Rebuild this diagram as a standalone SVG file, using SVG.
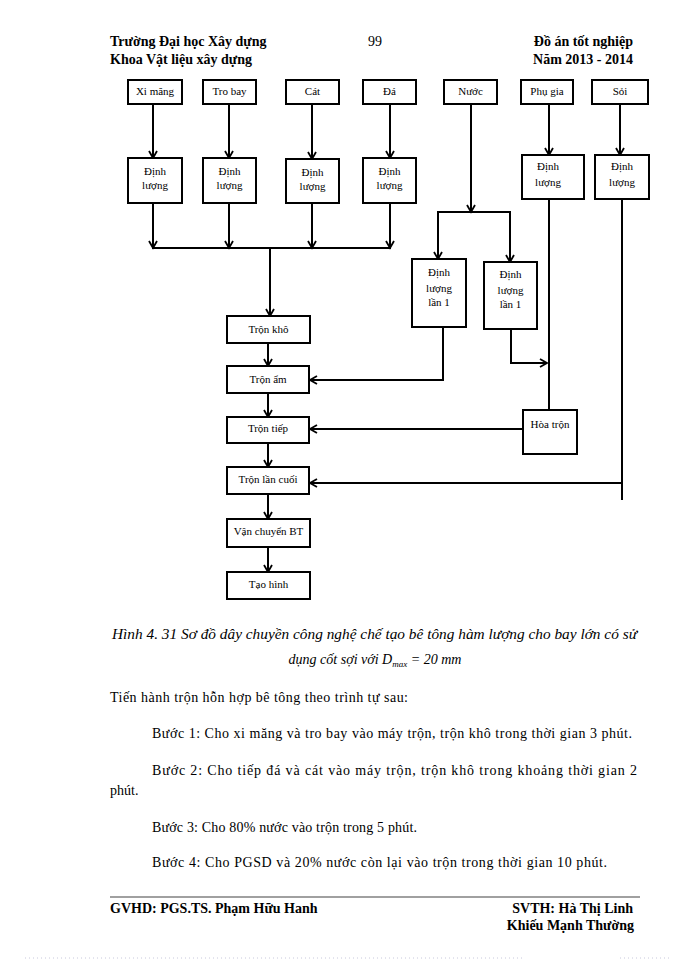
<svg xmlns="http://www.w3.org/2000/svg" width="700" height="960" viewBox="0 0 700 960">
<style>
text{font-family:"Liberation Serif","Times New Roman",serif;fill:#000}
.h{font-size:14px;font-weight:bold}
.b{font-size:14px}
.cap{font-size:14px;font-style:italic}
.n{font-size:11px;text-anchor:middle}
.box{fill:#fff;stroke:#000;stroke-width:2}
.c{fill:none;stroke:#000;stroke-width:2}
.a{marker-end:url(#arr)}
</style>
<defs>
<marker id="arr" markerUnits="userSpaceOnUse" markerWidth="10" markerHeight="10" viewBox="0 0 10 10" refX="8" refY="5" orient="auto">
<path d="M1,1 L8,5 L1,9" fill="none" stroke="#000" stroke-width="1.8"/>
</marker>
</defs>
<rect width="700" height="960" fill="#fff"/>

<g id="header">
<text class="h" x="110" y="46">Trường Đại học Xây dựng</text>
<text class="b" x="375" y="46" text-anchor="middle">99</text>
<text class="h" x="633" y="46" text-anchor="end">Đồ án tốt nghiệp</text>
<text class="h" x="110" y="64">Khoa Vật liệu xây dựng</text>
<text class="h" x="633" y="64" text-anchor="end">Năm 2013 - 2014</text>
</g>

<g id="connectors">
<line class="c a" x1="153" y1="104" x2="153" y2="158"/>
<line class="c a" x1="229" y1="104" x2="229" y2="158"/>
<line class="c a" x1="312" y1="104" x2="312" y2="159"/>
<line class="c a" x1="390" y1="104" x2="390" y2="158"/>
<line class="c a" x1="153" y1="203" x2="153" y2="248"/>
<line class="c a" x1="229" y1="203" x2="229" y2="248"/>
<line class="c a" x1="312" y1="203" x2="312" y2="248"/>
<line class="c a" x1="390" y1="203" x2="390" y2="248"/>
<line class="c" x1="152" y1="248" x2="391" y2="248"/>
<line class="c a" x1="270" y1="248" x2="270" y2="316"/>
<line class="c a" x1="268" y1="343" x2="268" y2="366"/>
<line class="c a" x1="268" y1="393" x2="268" y2="417"/>
<line class="c a" x1="268" y1="443" x2="268" y2="467"/>
<line class="c a" x1="268" y1="494" x2="268" y2="519"/>
<line class="c a" x1="268" y1="547" x2="268" y2="572"/>
<line class="c a" x1="471" y1="104" x2="471" y2="212"/>
<polyline class="c" points="438,259 438,212 510,212 510,262"/>
<line class="c a" x1="438" y1="230" x2="438" y2="259"/>
<line class="c a" x1="510" y1="230" x2="510" y2="262"/>
<polyline class="c a" points="443,327 443,380 310,380"/>
<polyline class="c a" points="511,329 511,363 547,363"/>
<line class="c a" x1="549" y1="104" x2="549" y2="155"/>
<line class="c a" x1="549" y1="199" x2="549" y2="421"/>
<line class="c a" x1="523" y1="429" x2="310" y2="429"/>
<line class="c a" x1="620" y1="104" x2="620" y2="155"/>
<line class="c" x1="622" y1="199" x2="622" y2="500"/>
<line class="c a" x1="622" y1="483" x2="310" y2="483"/>
</g>

<g id="xi-mang"><rect class="box" x="128" y="80" width="54" height="24"/><text class="n" x="155" y="95">Xi măng</text></g>
<g id="tro-bay"><rect class="box" x="203" y="80" width="53" height="24"/><text class="n" x="229.5" y="95">Tro bay</text></g>
<g id="cat"><rect class="box" x="286" y="80" width="53" height="24"/><text class="n" x="312.5" y="95">Cát</text></g>
<g id="da"><rect class="box" x="363" y="80" width="53" height="24"/><text class="n" x="389.5" y="95">Đá</text></g>
<g id="nuoc"><rect class="box" x="444" y="80" width="53" height="24"/><text class="n" x="470.5" y="95">Nước</text></g>
<g id="phu-gia"><rect class="box" x="521" y="80" width="52" height="24"/><text class="n" x="547" y="95">Phụ gia</text></g>
<g id="soi"><rect class="box" x="592" y="80" width="56" height="24"/><text class="n" x="620" y="95">Sỏi</text></g>

<g id="dl-xm"><rect class="box" x="128" y="158" width="54" height="45"/><text class="n" x="155" y="175">Định</text><text class="n" x="155" y="189">lượng</text></g>
<g id="dl-tb"><rect class="box" x="203" y="158" width="53" height="45"/><text class="n" x="229.5" y="175">Định</text><text class="n" x="229.5" y="189">lượng</text></g>
<g id="dl-cat"><rect class="box" x="286" y="159" width="53" height="44"/><text class="n" x="312.5" y="176">Định</text><text class="n" x="312.5" y="190">lượng</text></g>
<g id="dl-da"><rect class="box" x="363" y="158" width="53" height="45"/><text class="n" x="389.5" y="175">Định</text><text class="n" x="389.5" y="189">lượng</text></g>
<g id="dl-pg"><rect class="box" x="522" y="155" width="62" height="44"/><text class="n" x="548" y="170">Định</text><text class="n" x="548" y="186">lượng</text></g>
<g id="dl-soi"><rect class="box" x="595" y="155" width="54" height="44"/><text class="n" x="622" y="170">Định</text><text class="n" x="622" y="186">lượng</text></g>

<g id="dl-lan1-a"><rect class="box" x="412" y="259" width="54" height="68"/><text class="n" x="439" y="276">Định</text><text class="n" x="439" y="292">lượng</text><text class="n" x="439" y="306">lần 1</text></g>
<g id="dl-lan1-b"><rect class="box" x="484" y="262" width="53" height="67"/><text class="n" x="510.5" y="278">Định</text><text class="n" x="510.5" y="294">lượng</text><text class="n" x="510.5" y="308">lần 1</text></g>

<g id="tron-kho"><rect class="box" x="227" y="316" width="83" height="27"/><text class="n" x="268.5" y="333">Trộn khô</text></g>
<g id="tron-am"><rect class="box" x="227" y="366" width="82" height="27"/><text class="n" x="268" y="383">Trộn ẩm</text></g>
<g id="tron-tiep"><rect class="box" x="227" y="417" width="82" height="26"/><text class="n" x="268" y="432">Trộn tiếp</text></g>
<g id="hoa-tron"><rect class="box" x="523" y="410" width="54" height="44"/><text class="n" x="550" y="428">Hòa trộn</text></g>
<g id="tron-lan-cuoi"><rect class="box" x="227" y="467" width="82" height="27"/><text class="n" x="268" y="483">Trộn lần cuối</text></g>
<g id="van-chuyen"><rect class="box" x="227" y="519" width="83" height="28"/><text class="n" x="268.5" y="535">Vận chuyển BT</text></g>
<g id="tao-hinh"><rect class="box" x="227" y="572" width="83" height="27"/><text class="n" x="268.5" y="588">Tạo hình</text></g>

<g id="caption">
<text class="cap" x="374.5" y="639" text-anchor="middle" textLength="525" lengthAdjust="spacingAndGlyphs">Hình 4. 31 Sơ đồ dây chuyền công nghệ chế tạo bê tông hàm lượng cho bay lớn có sử</text>
<text class="cap" x="375" y="664" text-anchor="middle">dụng cốt sợi với D<tspan font-size="9" dy="3">max</tspan><tspan dy="-3"> = 20 mm</tspan></text>
</g>

<g id="body">
<text class="b" x="110" y="702" textLength="298" lengthAdjust="spacing">Tiến hành trộn hỗn hợp bê tông theo trình tự sau:</text>
<text class="b" x="152" y="738" textLength="480" lengthAdjust="spacing">Bước 1: Cho xi măng và tro bay vào máy trộn, trộn khô trong thời gian 3 phút.</text>
<text class="b" x="152" y="775" textLength="485" lengthAdjust="spacing">Bước 2: Cho tiếp đá và cát vào máy trộn, trộn khô trong khoảng thời gian 2</text>
<text class="b" x="110" y="795">phút.</text>
<text class="b" x="152" y="832" textLength="265" lengthAdjust="spacing">Bước 3: Cho 80% nước vào trộn trong 5 phút.</text>
<text class="b" x="152" y="867" textLength="455" lengthAdjust="spacing">Bước 4: Cho PGSD và 20% nước còn lại vào trộn trong thời gian 10 phút.</text>
</g>

<g id="footer">
<line x1="110" y1="897" x2="640" y2="897" stroke="#808080" stroke-width="1.5"/>
<text class="h" x="110" y="913">GVHD: PGS.TS. Phạm Hữu Hanh</text>
<text class="h" x="633" y="913" text-anchor="end">SVTH: Hà Thị Linh</text>
<text class="h" x="634" y="930" text-anchor="end">Khiếu Mạnh Thường</text>
<line x1="25" y1="958" x2="522" y2="958" stroke="#c8c8dc" stroke-width="1" stroke-dasharray="1 3"/>
<line x1="620" y1="958" x2="672" y2="958" stroke="#c8c8dc" stroke-width="1" stroke-dasharray="1 3"/>
</g>
</svg>
